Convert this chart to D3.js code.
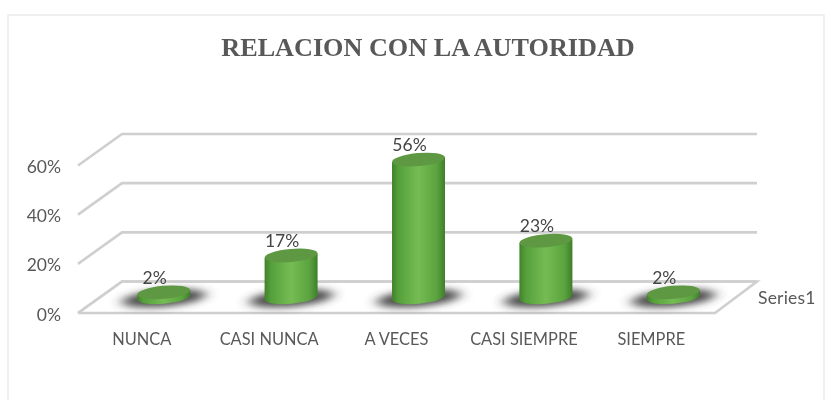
<!DOCTYPE html>
<html><head><meta charset="utf-8">
<script src="https://cdn.jsdelivr.net/npm/d3@7"></script>
<style>html,body{margin:0;padding:0;background:#fff}svg{display:block}</style>
</head><body><div id="chart"></div>
<script>
const titleText = "RELACION CON LA AUTORIDAD";
const categories = ["NUNCA","CASI NUNCA","A VECES","CASI SIEMPRE","SIEMPRE"];
const values = [2,17,56,23,2];
const valueLabels = ["2%","17%","56%","23%","2%"];
const yTicks = [0,20,40,60];
const seriesName = "Series1";

const W=834,H=400;
const depthX=44,depthY=-31.5;
const svg=d3.select("#chart").append("svg").attr("width",W).attr("height",H);
const defs=svg.append("defs");
const grad=defs.append("linearGradient").attr("id","cyl");
[[0,"#41812c"],[0.12,"#55a03b"],[0.5,"#76bc54"],[0.85,"#5aa33e"],[1,"#3f7e2b"]].forEach(([o,c])=>grad.append("stop").attr("offset",o).attr("stop-color",c));
defs.append("filter").attr("id","shadow").attr("x","-40%").attr("y","-100%").attr("width","180%").attr("height","300%")
  .append("feGaussianBlur").attr("stdDeviation","6.5 3.5");
defs.append("filter").attr("id","soft").append("feGaussianBlur").attr("stdDeviation","0.45");

const x=d3.scaleBand().domain(categories).range([78,715]);
const y=d3.scaleLinear().domain([0,60]).range([313,165.5]);
const font="Lato, 'Open Sans', sans-serif", grey="#595959";

svg.append("rect").attr("x",8).attr("y",15).attr("width",816).attr("height",395)
  .attr("fill","#fff").attr("stroke","#ececec").attr("stroke-width",1.5);

svg.append("text").attr("x",428).attr("y",56).attr("text-anchor","middle")
  .attr("font-family","'Liberation Serif', serif").attr("font-weight","bold").attr("font-size",26.2)
  .attr("fill",grey).attr("filter","url(#soft)").text(titleText);

// grid walls
const wall=svg.append("g").attr("fill","none").attr("stroke","#cfcfcf").attr("stroke-width",2.6);
yTicks.forEach(t=>{
  wall.append("path").attr("d",d3.line()([[78,y(t)],[78+depthX,y(t)+depthY],[757,y(t)+depthY]]));
});
svg.append("path").attr("d",d3.line()([[78,y(0)],[78+depthX,y(0)+depthY],[715+depthX-2,y(0)+depthY],[715,y(0)],[78,y(0)]]))
  .attr("fill","none").attr("stroke","#cfcfcf").attr("stroke-width",2.6);

// y tick labels
svg.append("g").selectAll("text").data(yTicks).join("text")
  .attr("x",61).attr("y",d=>y(d)+7.5).attr("text-anchor","end")
  .attr("font-family",font).attr("font-size",17.5).attr("fill",grey).attr("filter","url(#soft)").text(d=>d+"%");

// cylinders
const rx=26.5,ry=6.5,tilt=-5,baseY=y(0)+depthY/2;
const h=d3.scaleLinear().domain([0,60]).range([0,y(0)-y(60)]);
const dy=rx*Math.sin(tilt*Math.PI/180);
const g=svg.append("g").selectAll("g").data(categories).join("g")
  .attr("transform",d=>`translate(${x(d)+x.bandwidth()/2+depthX/2},${baseY})`);
g.append("ellipse").attr("cx",0).attr("cy",1).attr("rx",42).attr("ry",8.5)
  .attr("fill","#383838").attr("fill-opacity",0.9).attr("transform",`rotate(${tilt})`).attr("filter","url(#shadow)");
g.each(function(d,i){
  const top=-h(values[i]);
  const sel=d3.select(this);
  sel.append("path")
    .attr("d",`M${-rx},${-dy} L${-rx},${top-dy} L${rx},${top+dy} L${rx},${dy} A${rx},${ry} ${tilt} 0 1 ${-rx},${-dy} Z`)
    .attr("fill","url(#cyl)");
  sel.append("ellipse").attr("cy",top).attr("rx",rx).attr("ry",ry)
    .attr("transform",`translate(0,${top}) rotate(${tilt}) translate(0,${-top})`)
    .attr("fill","#5e9842");
  svg.append("text").attr("x",x(d)+x.bandwidth()/2+13).attr("y",baseY+top-8.5)
    .attr("text-anchor","middle").attr("font-family",font).attr("font-size",17.5)
    .attr("fill","#444").attr("filter","url(#soft)").text(valueLabels[i]);
});

// category labels
svg.append("g").selectAll("text").data(categories).join("text")
  .attr("x",d=>x(d)+x.bandwidth()/2).attr("y",345).attr("text-anchor","middle")
  .attr("font-family",font).attr("font-size",16.4).attr("fill",grey).attr("filter","url(#soft)").text(d=>d);

svg.append("text").attr("x",758).attr("y",304).attr("font-family",font).attr("font-size",17.5)
  .attr("letter-spacing",0.2).attr("fill",grey).attr("filter","url(#soft)").text(seriesName);
</script></body></html>
